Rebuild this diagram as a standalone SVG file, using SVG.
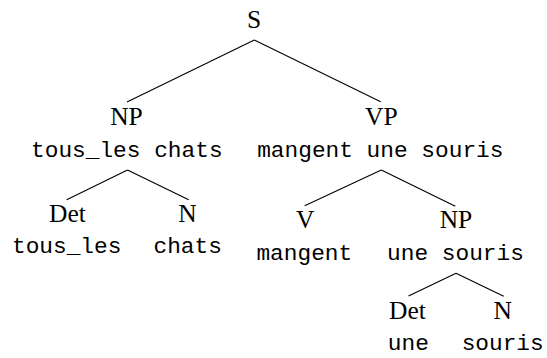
<svg xmlns="http://www.w3.org/2000/svg" width="547" height="358" viewBox="0 0 547 358">
<style>
.cat{font-family:"Liberation Serif","Times New Roman",serif;font-size:25.5px;fill:#000;text-anchor:middle}
.wd{font-family:"Liberation Mono","Courier New",monospace;font-size:22.8px;fill:#000;text-anchor:middle}
.edges line{stroke:#000;stroke-width:1.1}
</style>
<rect width="547" height="358" fill="#fff"/>
<g class="edges" id="connectors">
<line x1="254.3" y1="40" x2="127" y2="102"/>
<line x1="254.3" y1="40" x2="380.7" y2="101.7"/>
<line x1="127.5" y1="170" x2="66.7" y2="199.7"/>
<line x1="127.5" y1="170" x2="188.7" y2="199.7"/>
<line x1="381.3" y1="170" x2="304.7" y2="205.7"/>
<line x1="381.3" y1="170" x2="455.3" y2="206.3"/>
<line x1="456" y1="273.3" x2="408.5" y2="296"/>
<line x1="456" y1="273.3" x2="503.7" y2="296.3"/>
</g>
<g id="S"><text class="cat" x="254" y="28.3">S</text></g>
<g id="NP1"><text class="cat" x="126.5" y="125">NP</text><text class="wd" x="126.8" y="156.7">tous_les chats</text></g>
<g id="VP"><text class="cat" x="381.3" y="125">VP</text><text class="wd" x="380.3" y="156.7">mangent une souris</text></g>
<g id="Det1"><text class="cat" x="67.5" y="222.3">Det</text><text class="wd" x="66.7" y="253">tous_les</text></g>
<g id="N1"><text class="cat" x="187.5" y="222.3">N</text><text class="wd" x="187.7" y="253">chats</text></g>
<g id="V"><text class="cat" x="305.3" y="228.3">V</text><text class="wd" x="304.3" y="260.3">mangent</text></g>
<g id="NP2"><text class="cat" x="456" y="228.3">NP</text><text class="wd" x="455.5" y="260.3">une souris</text></g>
<g id="Det2"><text class="cat" x="407.5" y="319">Det</text><text class="wd" x="408.3" y="349.7">une</text></g>
<g id="N2"><text class="cat" x="502.7" y="319">N</text><text class="wd" x="502.7" y="349.7">souris</text></g>
</svg>
